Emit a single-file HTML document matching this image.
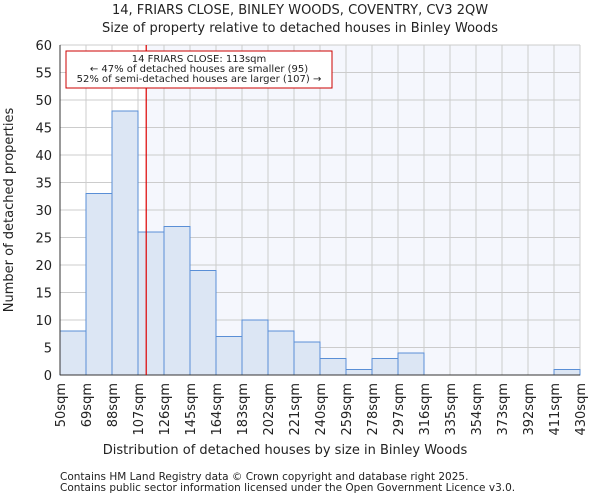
<!DOCTYPE html>
<html><head><meta charset="utf-8"><style>
body{margin:0;background:#fff;font-family:"DejaVu Sans","Liberation Sans",sans-serif;}
svg text{font-family:"DejaVu Sans","Liberation Sans",sans-serif;fill:#222;}
</style></head><body>
<svg width="600" height="500" id="c">
<text x="300" y="14" font-size="13" text-anchor="middle">14, FRIARS CLOSE, BINLEY WOODS, COVENTRY, CV3 2QW</text>
<text x="300" y="32" font-size="13" text-anchor="middle">Size of property relative to detached houses in Binley Woods</text>
<text x="285" y="454" font-size="13" text-anchor="middle">Distribution of detached houses by size in Binley Woods</text>
<text transform="translate(13,210) rotate(-90)" font-size="13" text-anchor="middle">Number of detached properties</text>
<text x="60" y="480" font-size="10.5">Contains HM Land Registry data © Crown copyright and database right 2025.</text>
<text x="60" y="491" font-size="10.5">Contains public sector information licensed under the Open Government Licence v3.0.</text>
<g id="plot"></g>
</svg>
<script>
const edges=[50,69,88,107,126,145,164,183,202,221,240,259,278,297,316,335,354,373,392,411,430];
const counts=[8,33,48,26,27,19,7,10,8,6,3,1,3,4,0,0,0,0,0,1];
const yTicks=[0,5,10,15,20,25,30,35,40,45,50,55,60];
const propSize=113;
const L=60,R=580,T=45,B=375,NS="http://www.w3.org/2000/svg";
const x=v=>L+(v-edges[0])/(edges[edges.length-1]-edges[0])*(R-L);
const y=v=>B-v/60*(B-T);
const g=document.getElementById('plot');
function mk(t,a,p){const e=document.createElementNS(NS,t);for(const k in a)e.setAttribute(k,a[k]);(p||g).appendChild(e);return e;}
let e;
e=mk('rect',{x:x(propSize),y:T,width:R-x(propSize),height:B-T,fill:'#f5f7fd'});


yTicks.forEach(t=>{e=mk('line',{x1:L,x2:R,y1:y(t),y2:y(t),stroke:'#ccc'});


e=mk('text',{x:L-8,y:y(t)+5,'font-size':13,'text-anchor':'end'});e.textContent=t;

});
edges.forEach(v=>{e=mk('line',{x1:x(v),x2:x(v),y1:T,y2:B,stroke:'#ccc'});


e=mk('text',{transform:`translate(${x(v)+5},${B+8}) rotate(-90)`,'font-size':13,'text-anchor':'end'});e.textContent=v+'sqm';

});
counts.forEach((c,i)=>{e=mk('rect',{x:x(edges[i]),y:y(c),width:x(edges[i+1])-x(edges[i]),height:B-y(c),fill:'#dce6f4',stroke:'#5a8fd6','stroke-width':1});

});
e=mk('line',{x1:L,x2:L,y1:T,y2:B,stroke:'#333'});


e=mk('line',{x1:L,x2:R,y1:B,y2:B,stroke:'#333'});


e=mk('line',{x1:x(propSize),x2:x(propSize),y1:T,y2:B,stroke:'#d00','stroke-width':1.2});


e=mk('rect',{x:66,y:51,width:266,height:37,fill:'#fff',stroke:'#c00'});


["14 FRIARS CLOSE: 113sqm","← 47% of detached houses are smaller (95)","52% of semi-detached houses are larger (107) →"].forEach((s,i)=>{
e=mk('text',{x:199,y:62+i*10,'font-size':10,'text-anchor':'middle'});e.textContent=s;

});
</script>
</body></html>
